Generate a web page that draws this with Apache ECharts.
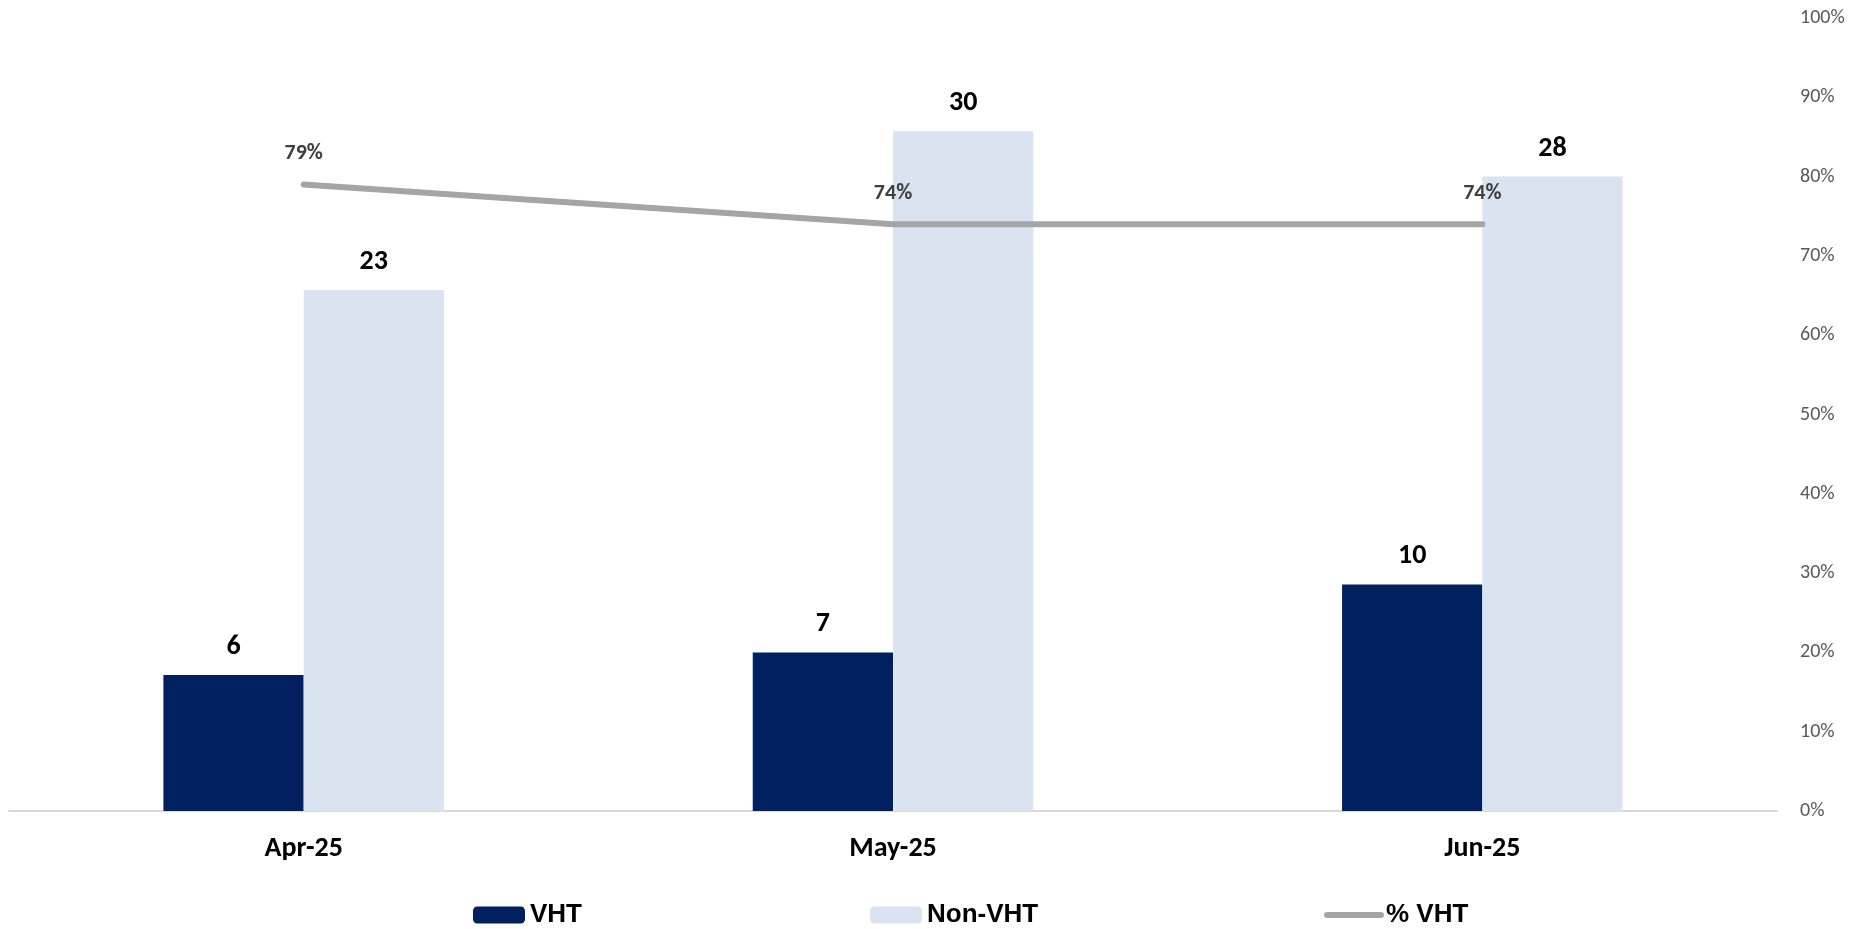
<!DOCTYPE html>
<html>
<head>
<meta charset="utf-8">
<script src="https://cdn.jsdelivr.net/npm/echarts@6/dist/echarts.min.js"></script>
<style>
html,body{margin:0;padding:0;background:#fff;}
#chart{width:1857px;height:929px;}
</style>
</head>
<body>
<div id="chart"></div>
<script>
const categories = ['Apr-25', 'May-25', 'Jun-25'];
const vhtValues = [6, 7, 10];
const nonVhtValues = [23, 30, 28];
const pctVhtValues = [79, 74, 74];
const pctTicks = [0, 10, 20, 30, 40, 50, 60, 70, 80, 90, 100];

const chart = echarts.init(document.getElementById('chart'));
const numFont = 'Calibri, Carlito, Lato, sans-serif';
const legendText = {
  fontFamily: '"Liberation Sans", Arial, sans-serif',
  fontWeight: 'bold', fontSize: 26, lineHeight: 26, color: '#000'
};
chart.setOption({
  animation: false,
  backgroundColor: '#ffffff',
  grid: { left: 9, right: 80, top: 18, bottom: 118, containLabel: false },
  legend: [
    { data: ['VHT'], left: 473, top: 902, itemWidth: 52, itemHeight: 17, padding: 0, textStyle: legendText, selectedMode: false },
    { data: ['Non-VHT'], left: 870, top: 902, itemWidth: 52, itemHeight: 17, padding: 0, textStyle: legendText, selectedMode: false },
    { data: ['% VHT'], left: 1324, top: 902, itemWidth: 54, itemHeight: 17, padding: 0, textStyle: legendText, selectedMode: false,
      itemStyle: { opacity: 0 }, lineStyle: { width: 6, color: '#a5a5a5', cap: 'round' } }
  ],
  xAxis: {
    type: 'category',
    data: categories,
    axisLine: { show: true, lineStyle: { color: '#d9d9d9', width: 2 } },
    axisTick: { show: false },
    axisLabel: { color: '#000', fontFamily: numFont, fontWeight: 'bold', fontSize: 28, margin: 24 }
  },
  yAxis: [
    { type: 'value', min: 0, max: 35, show: false, splitLine: { show: false } },
    {
      type: 'value', position: 'right', min: pctTicks[0], max: pctTicks[pctTicks.length - 1], interval: 10,
      axisLine: { show: false }, axisTick: { show: false }, splitLine: { show: false },
      axisLabel: { color: '#595959', fontFamily: numFont, fontSize: 20, margin: 23, formatter: '{value}%' }
    }
  ],
  series: [
    {
      name: 'VHT', type: 'bar', data: vhtValues, yAxisIndex: 0,
      barWidth: '23.8%', barGap: '0%',
      itemStyle: { color: '#002060' },
      label: { show: true, position: 'top', distance: 14, color: '#000', fontFamily: numFont, fontWeight: 'bold', fontSize: 28 }
    },
    {
      name: 'Non-VHT', type: 'bar', data: nonVhtValues, yAxisIndex: 0,
      barWidth: '23.8%', barGap: '0%',
      itemStyle: { color: '#dae3f0' },
      label: { show: true, position: 'top', distance: 14, color: '#000', fontFamily: numFont, fontWeight: 'bold', fontSize: 28 }
    },
    {
      name: '% VHT', type: 'line', data: pctVhtValues, yAxisIndex: 1,
      symbol: 'circle', symbolSize: 0, showSymbol: true, z: 5,
      lineStyle: { color: '#a5a5a5', width: 6, cap: 'round', join: 'round' },
      itemStyle: { color: '#a5a5a5' },
      label: { show: true, position: 'top', distance: 20, color: '#404040', fontFamily: numFont, fontWeight: 'bold', fontSize: 22, formatter: '{c}%' }
    }
  ]
});
</script>
</body>
</html>
